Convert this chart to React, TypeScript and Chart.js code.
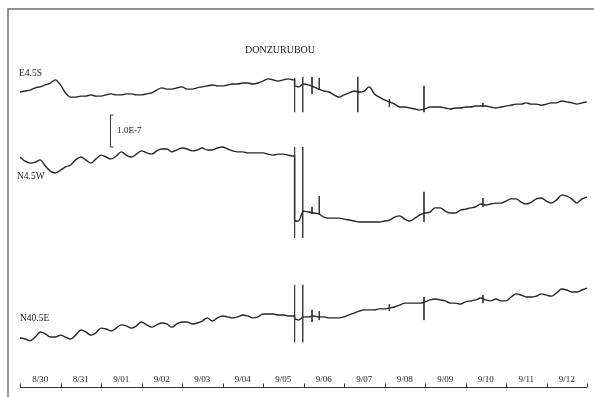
import React, { useEffect, useRef } from "react";
import { Chart, registerables } from "chart.js";

Chart.register(...registerables);

// ---- data -------------------------------------------------------------
// Day labels (each label sits in the middle of its day interval)
const DAY_LABELS = ["8/30", "8/31", "9/01", "9/02", "9/03", "9/04", "9/05", "9/06", "9/07", "9/08", "9/09", "9/10", "9/11", "9/12"];
const TITLE = "DONZURUBOU";
const TRACE_NAMES = ["E4.5S", "N4.5W", "N40.5E"];
const SCALE_LABEL = "1.0E-7";
const SCALE_SPAN = 10; // 1.0E-7 expressed in units of 1e-8 strain

// sampling interval of the records (days since 8/30 00:00)
const STEP_DAYS = 0.125;

// strain change, units of 1e-8, relative to the first sample
const E45S = [
  0, 0.3, 0.6, 1.3, 1.6, 2.2, 2.8, 3.8, 2.2, -0.3,
  -1.6, -1.6, -1.3, -1.3, -0.9, -1.3, -1.3, -0.9, -0.6, -0.9,
  -0.9, -0.6, -0.6, -0.9, -0.9, -0.6, -0.3, 0.6, 1.3, 0.9,
  0.9, 1.3, 1.6, 0.9, 0.9, 1.3, 1.6, 1.9, 2.2, 1.9,
  1.9, 2.2, 2.5, 2.5, 2.8, 2.8, 2.5, 2.8, 3.4, 4.1,
  3.8, 3.4, 3.8, 4.1, 3.8, 1.6, 2.5, 2.2, 1.6, 0.9,
  0.3, 0, -0.9, -1.6, -0.9, -0.3, 0.3, 0, 0.3, 1.6,
  -0.6, -1.6, -2.5, -3.1, -3.8, -4.7, -4.7, -5.0, -5.3, -5.6,
  -5.3, -4.7, -4.7, -4.7, -5.0, -5.3, -5.0, -5.0, -4.7, -4.7,
  -4.4, -4.4, -4.4, -4.7, -5.0, -4.7, -4.4, -4.1, -3.8, -3.8,
  -3.4, -3.8, -3.8, -4.1, -3.8, -3.4, -3.4, -2.8, -3.1, -3.4,
  -3.8, -3.4, -3.1,
];
const N45W = [
  0, -1.3, -1.9, -1.6, -0.9, -2.8, -4.4, -5.0, -4.1, -3.1,
  -2.5, -0.9, 0, -0.9, -1.9, -0.6, 0.6, 0, -0.6, 0.3,
  1.6, 0.6, 0, 0.9, 1.9, 1.3, 0.9, 1.9, 2.5, 2.5,
  1.6, 2.2, 2.8, 2.5, 1.9, 2.2, 2.8, 2.2, 2.2, 2.8,
  3.1, 2.5, 1.9, 1.6, 1.6, 1.3, 1.3, 1.3, 1.3, 0.9,
  0.6, 0.9, 0.9, 0.6, 0.3, -20.0, -16.9, -17.2, -17.5, -17.8,
  -18.8, -19.1, -19.1, -19.1, -19.4, -19.7, -20.0, -20.3, -20.3, -20.3,
  -20.3, -20.3, -20.0, -19.7, -18.8, -18.4, -19.4, -20.0, -19.1, -18.1,
  -17.5, -17.2, -15.9, -15.9, -16.9, -17.5, -17.5, -16.6, -16.3, -15.9,
  -15.6, -14.7, -15.0, -14.7, -14.4, -14.4, -13.8, -13.1, -13.1, -14.1,
  -14.7, -14.1, -13.1, -12.8, -13.8, -14.4, -13.4, -11.9, -12.2, -13.1,
  -14.4, -13.1, -12.5,
];
const N405E = [
  0, -0.3, -0.9, 0.3, 1.9, 1.3, 0.3, 0.3, 0.9, 0.3,
  -0.3, 0.9, 2.5, 1.9, 0.9, 1.6, 3.1, 2.8, 2.2, 3.1,
  4.1, 3.8, 3.1, 3.8, 5.0, 4.1, 3.4, 4.1, 4.7, 4.4,
  3.4, 4.4, 5.0, 5.0, 4.4, 4.7, 5.3, 6.3, 5.3, 6.3,
  6.9, 6.6, 6.3, 6.6, 7.2, 6.9, 6.3, 6.6, 7.5, 7.5,
  7.5, 7.2, 7.2, 6.9, 6.9, 5.6, 6.6, 6.6, 6.9, 6.6,
  6.6, 6.3, 6.3, 6.3, 6.6, 7.2, 7.8, 8.4, 8.8, 8.8,
  8.8, 9.1, 9.1, 9.4, 9.7, 10.3, 10.9, 10.9, 10.9, 10.9,
  11.3, 11.9, 12.2, 11.9, 11.6, 10.9, 10.9, 10.6, 11.3, 11.6,
  11.9, 12.5, 11.9, 11.6, 12.2, 11.6, 11.6, 12.8, 13.8, 13.4,
  12.8, 12.8, 13.1, 13.8, 13.4, 13.1, 14.1, 15.3, 15.0, 14.4,
  14.4, 15.0, 15.6,
];

// instantaneous offsets of the record: [day, value before, value after]
const E45S_STEPS: [number, number, number][] = [[6.78, 3.8, 1.9]];
const N45W_STEPS: [number, number, number][] = [[6.78, 0.3, -20.0]];
const N405E_STEPS: [number, number, number][] = [[6.78, 6.9, 6.0]];

// transient pen excursions: [day, top, bottom] (1e-8 units)
const E45S_SPIKES: [number, number, number][] = [
  [6.78, 4.4, -6.3], [6.98, 4.7, -6.3], [7.21, 4.7, -0.6], [7.39, 4.4, 0.6],
  [8.34, 4.7, -6.3], [9.12, -2.2, -4.7], [9.975, 1.9, -6.3], [11.43, -3.4, -4.7],
];
const N45W_SPIKES: [number, number, number][] = [
  [6.78, 3.1, -25.3], [6.98, 3.1, -25.3], [7.21, -15.6, -17.8], [7.39, -12.2, -17.8],
  [9.975, -10.9, -20.3], [11.43, -12.8, -15.6],
];
const N405E_SPIKES: [number, number, number][] = [
  [6.78, 16.6, -1.3], [6.98, 16.6, -1.3], [7.21, 8.8, 5.0], [7.39, 8.4, 5.6],
  [9.12, 10.6, 8.4], [9.975, 12.8, 5.6], [11.43, 13.4, 10.9],
];

// ---- layout (vertical stacking of the traces on the sheet) ------------
const TRACE_OFFSETS = [92.19, 71.875, 15.31];
const Y_MAX = 117.81;
const INK = "#262626";
const FONT = "'Liberation Serif', 'Times New Roman', serif";

function traceData(vals: number[], steps: [number, number, number][], off: number) {
  const pts = vals.map((v, i) => ({ x: i * STEP_DAYS, y: v + off }));
  steps.forEach(([d, a, b]) => {
    pts.push({ x: d, y: a + off }, { x: d, y: b + off });
  });
  return pts.sort((p, q) => p.x - q.x);
}
function spikeData(sp: [number, number, number][], off: number) {
  const out: { x: number; y: number | null }[] = [];
  sp.forEach(([d, t, b]) => {
    out.push({ x: d, y: t + off }, { x: d, y: b + off }, { x: d, y: null });
  });
  return out;
}

const decor = {
  id: "decor",
  afterDraw(chart: any) {
    const { ctx, chartArea } = chart;
    const xs = chart.scales.x;
    const ys = chart.scales.y;
    ctx.save();
    // sheet frame
    ctx.strokeStyle = "#707070";
    ctx.lineWidth = 1.5;
    ctx.beginPath();
    ctx.moveTo(8, chart.height);
    ctx.lineTo(8, 9);
    ctx.lineTo(chart.width, 9);
    ctx.stroke();

    // time axis
    const yb = Math.round(chartArea.bottom) + 0.5;
    ctx.strokeStyle = "#333";
    ctx.lineWidth = 1;
    ctx.beginPath();
    ctx.moveTo(xs.getPixelForValue(0), yb);
    ctx.lineTo(xs.getPixelForValue(DAY_LABELS.length), yb);
    for (let i = 0; i <= DAY_LABELS.length; i++) {
      const px = Math.round(xs.getPixelForValue(i)) + 0.5;
      ctx.moveTo(px, yb);
      ctx.lineTo(px, yb - 4);
    }
    ctx.stroke();
    ctx.fillStyle = "#1a1a1a";
    ctx.font = `9px ${FONT}`;
    ctx.textAlign = "center";
    ctx.textBaseline = "middle";
    DAY_LABELS.forEach((l, i) => ctx.fillText(l, xs.getPixelForValue(i + 0.5), yb - 8));

    // title
    ctx.font = `10px ${FONT}`;
    ctx.fillText(TITLE, xs.getPixelForValue(6.42), ys.getPixelForValue(105.3));

    // trace names
    ctx.textAlign = "left";
    ctx.font = `9.5px ${FONT}`;
    ctx.fillText(TRACE_NAMES[0], xs.getPixelForValue(0) - 1, ys.getPixelForValue(TRACE_OFFSETS[0] + 5.9));
    ctx.fillText(TRACE_NAMES[1], xs.getPixelForValue(0) - 3, ys.getPixelForValue(TRACE_OFFSETS[1] - 6.25));
    ctx.fillText(TRACE_NAMES[2], xs.getPixelForValue(0), ys.getPixelForValue(TRACE_OFFSETS[2] + 6.25));

    // strain scale bar
    const sx = Math.round(xs.getPixelForValue(2.22)) + 0.5;
    const sb = ys.getPixelForValue(TRACE_OFFSETS[1] + 3.1);
    const st = ys.getPixelForValue(TRACE_OFFSETS[1] + 3.1 + SCALE_SPAN);
    ctx.strokeStyle = "#333";
    ctx.lineWidth = 1;
    ctx.beginPath();
    ctx.moveTo(sx + 3, st);
    ctx.lineTo(sx, st);
    ctx.lineTo(sx, sb);
    ctx.lineTo(sx + 3, sb);
    ctx.stroke();
    ctx.font = `9px ${FONT}`;
    ctx.fillText(SCALE_LABEL, xs.getPixelForValue(2.4), (st + sb) / 2);
    ctx.restore();
  },
};

export default function App() {
  const ref = useRef<HTMLCanvasElement>(null);
  useEffect(() => {
    if (!ref.current) return;
    const traces = [E45S, N45W, N405E];
    const steps = [E45S_STEPS, N45W_STEPS, N405E_STEPS];
    const spikes = [E45S_SPIKES, N45W_SPIKES, N405E_SPIKES];
    const datasets: any[] = [];
    traces.forEach((t, i) => {
      datasets.push({
        label: TRACE_NAMES[i],
        data: traceData(t, steps[i], TRACE_OFFSETS[i]),
        borderColor: INK,
        borderWidth: 1.4,
        pointRadius: 0,
        cubicInterpolationMode: "monotone",
        fill: false,
      });
      datasets.push({
        label: TRACE_NAMES[i] + " offsets",
        data: spikeData(spikes[i], TRACE_OFFSETS[i]),
        borderColor: "#3a3a3a",
        borderWidth: 1,
        pointRadius: 0,
        tension: 0,
        spanGaps: false,
        fill: false,
      });
    });
    const chart = new Chart(ref.current, {
      type: "line",
      data: { datasets },
      options: {
        animation: false,
        responsive: false,
        maintainAspectRatio: false,
        layout: { padding: { left: 20, right: 7, top: 10, bottom: 10 } },
        plugins: { legend: { display: false }, tooltip: { enabled: false } },
        scales: {
          x: { type: "linear", min: 0, max: DAY_LABELS.length, display: false },
          y: { type: "linear", min: 0, max: Y_MAX, display: false },
        },
      },
      plugins: [decor],
    });
    return () => chart.destroy();
  }, []);
  return (
    <div style={{ position: "fixed", left: 0, top: 0, width: 594, height: 397, background: "#fff" }}>
      <canvas ref={ref} width={594} height={397} style={{ display: "block" }} />
    </div>
  );
}
